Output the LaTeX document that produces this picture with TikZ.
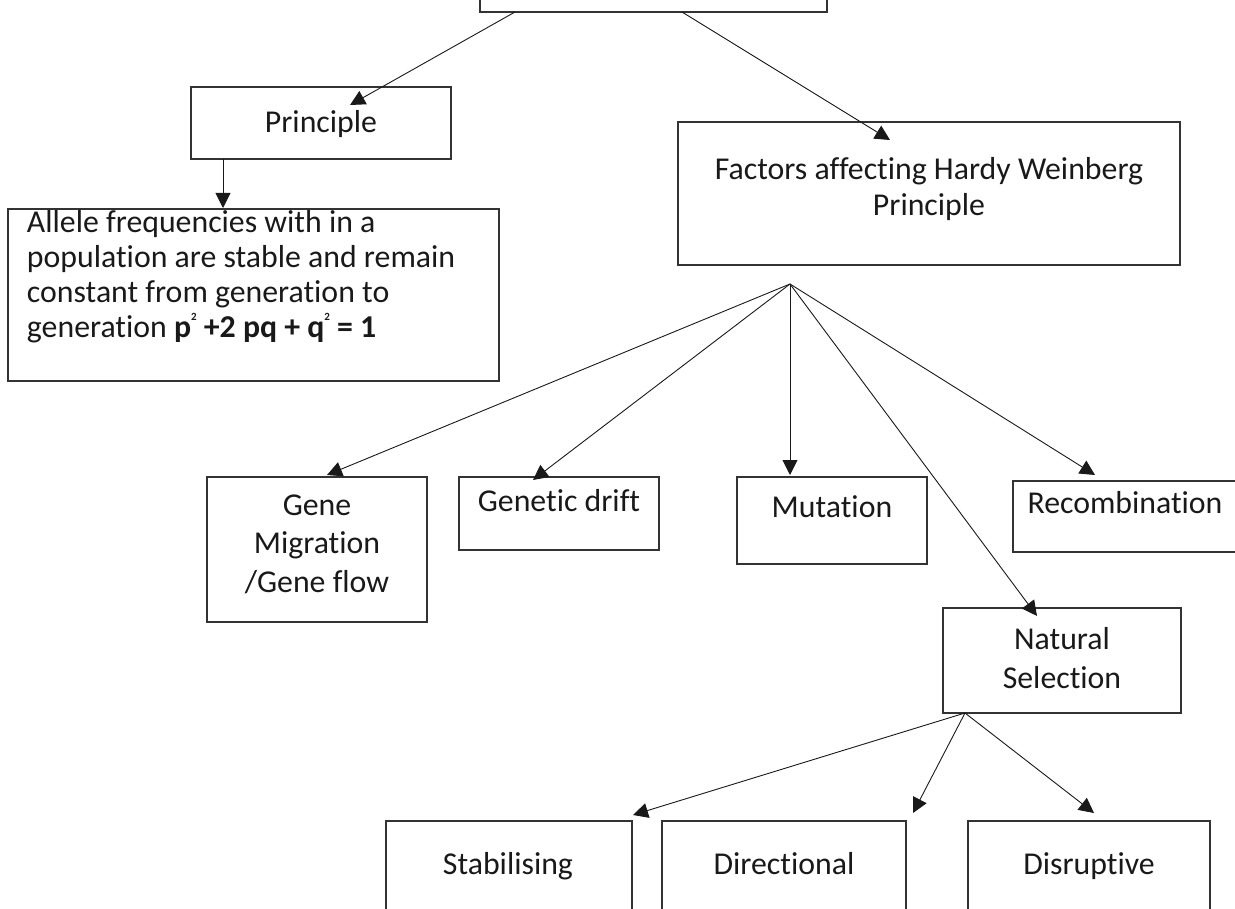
\documentclass[tikz,border=0pt]{standalone}
\usepackage{fontspec}
\setmainfont[Ligatures={NoCommon}]{Carlito}
\usetikzlibrary{arrows.meta}
\begin{document}
\begin{tikzpicture}[x=1pt,y=-1pt,
  box/.style={draw=black!80, line width=1.3pt, inner sep=0pt, outer sep=0pt, anchor=north west},
  lbl/.style={anchor=base, inner sep=0pt, outer sep=0pt, text=black!90, font=\fontsize{31.8}{36}\selectfont},
  lblw/.style={lbl, anchor=base west},
  conn/.style={line width=0.9pt, draw=black!90, -{Triangle[length=15pt,width=15pt]}}]
\useasboundingbox (0,0) rectangle (1235,909);
\clip (0,0) rectangle (1235,909);
% boxes
\node[box, minimum width=347pt, minimum height=32pt] (top) at (480,-20) {};
\node[box, minimum width=260pt, minimum height=72pt] (prin) at (191,87) {};
\node[box, minimum width=491pt, minimum height=172pt] (allele) at (8,209) {};
\node[box, minimum width=502pt, minimum height=143pt] (fact) at (678,122) {};
\node[box, minimum width=220pt, minimum height=145pt] (gm) at (207,477) {};
\node[box, minimum width=200pt, minimum height=73pt] (gd) at (459,477) {};
\node[box, minimum width=190pt, minimum height=87pt] (mut) at (737,477) {};
\node[box, minimum width=224pt, minimum height=71pt] (rec) at (1013,481) {};
\node[box, minimum width=238pt, minimum height=105pt] (ns) at (943,608) {};
\node[box, minimum width=246pt, minimum height=120pt] (stab) at (386,821) {};
\node[box, minimum width=244pt, minimum height=120pt] (dir) at (662,821) {};
\node[box, minimum width=242pt, minimum height=120pt] (dis) at (968,821) {};
% texts
\node[lbl] (tprin) at (321,133) {Principle};
\node[lblw] (tal1) at (27,233) {Allele frequencies with in a};
\node[lblw] (tal2) at (27,268) {population are stable and remain};
\node[lblw] (tal3) at (27,303) {constant from generation to};
\node[lblw] (tal4) at (27,338) {generation \textbf{p\raisebox{0.55em}{\fontsize{11}{11}\selectfont 2} +2 pq + q\raisebox{0.55em}{\fontsize{11}{11}\selectfont 2} = 1}};
\node[lbl] (tfa1) at (929,180) {Factors affecting Hardy Weinberg};
\node[lbl] (tfa2) at (929,216) {Principle};
\node[lbl] (tgm1) at (317,515) {Gene};
\node[lbl] (tgm2) at (317,553) {Migration};
\node[lbl] (tgm3) at (317,592) {/Gene flow};
\node[lbl] (tgd) at (559,511) {Genetic drift};
\node[lbl] (tmut) at (832,517) {Mutation};
\node[lbl] (trec) at (1125,513) {Recombination};
\node[lbl] (tns1) at (1062,649) {Natural};
\node[lbl] (tns2) at (1062,688) {Selection};
\node[lbl] (tstab) at (508,874) {Stabilising};
\node[lbl] (tdir) at (784,874) {Directional};
\node[lbl] (tdis) at (1089,874) {Disruptive};
% connector points
\coordinate (topA) at (515,12);
\coordinate (topB) at (682,12);
\coordinate (prinIn) at (350,105);
\coordinate (factIn) at (890,140);
\coordinate (prinOut) at (223,159);
\coordinate (alleleIn) at (223,208);
\coordinate (fanF) at (790,284);
\coordinate (gmIn) at (327,475);
\coordinate (gdIn) at (533,480);
\coordinate (mutIn) at (790,475);
\coordinate (recIn) at (1095,475);
\coordinate (nsIn) at (1037,616);
\coordinate (fanN) at (965,713);
\coordinate (stabIn) at (633,815);
\coordinate (dirIn) at (913,813);
\coordinate (disIn) at (1094,813);
% connectors
\draw[conn] (topA) -- (prinIn);
\draw[conn] (topB) -- (factIn);
\draw[conn] (prinOut) -- (alleleIn);
\draw[conn] (fanF) -- (gmIn);
\draw[conn] (fanF) -- (gdIn);
\draw[conn] (fanF) -- (mutIn);
\draw[conn] (fanF) -- (recIn);
\draw[conn] (fanF) -- (nsIn);
\draw[conn] (fanN) -- (stabIn);
\draw[conn] (fanN) -- (dirIn);
\draw[conn] (fanN) -- (disIn);
\end{tikzpicture}
\end{document}
